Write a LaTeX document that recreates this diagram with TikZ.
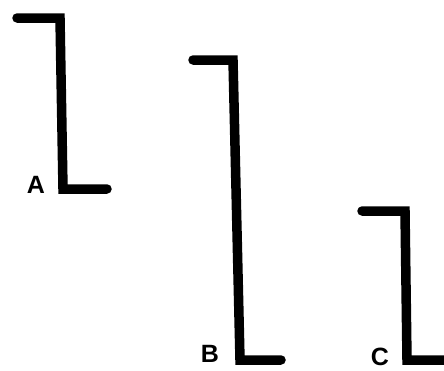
\documentclass[tikz,border=0pt]{standalone}
\usepackage{fontspec}
\setmainfont{Liberation Sans}
\begin{document}
\begin{tikzpicture}[x=1pt,y=-1pt,
  bar/.style={line width=9.5pt,line cap=round,line join=miter,black},
  lbl/.style={font=\bfseries\fontsize{25}{25}\selectfont,inner sep=0pt,anchor=center}]
\useasboundingbox (0,0) rectangle (444,370);
% A
\coordinate (a1) at (17,18);
\coordinate (a2) at (60,18);
\coordinate (a3) at (63,189);
\coordinate (a4) at (107,189);
\draw[bar] (a1) -- (a2) -- (a3) -- (a4);
\node[lbl] (la) at (36,185) {A};
% B
\coordinate (b1) at (193,60);
\coordinate (b2) at (233,60);
\coordinate (b3) at (240,360);
\coordinate (b4) at (281,360);
\draw[bar] (b1) -- (b2) -- (b3) -- (b4);
\node[lbl] (lb) at (210,354) {B};
% C
\coordinate (c1) at (362,211);
\coordinate (c2) at (405,211);
\coordinate (c3) at (407,360);
\coordinate (c4) at (450,360);
\draw[bar] (c1) -- (c2) -- (c3) -- (c4);
\node[lbl] (lc) at (380,357) {C};
\end{tikzpicture}
\end{document}
